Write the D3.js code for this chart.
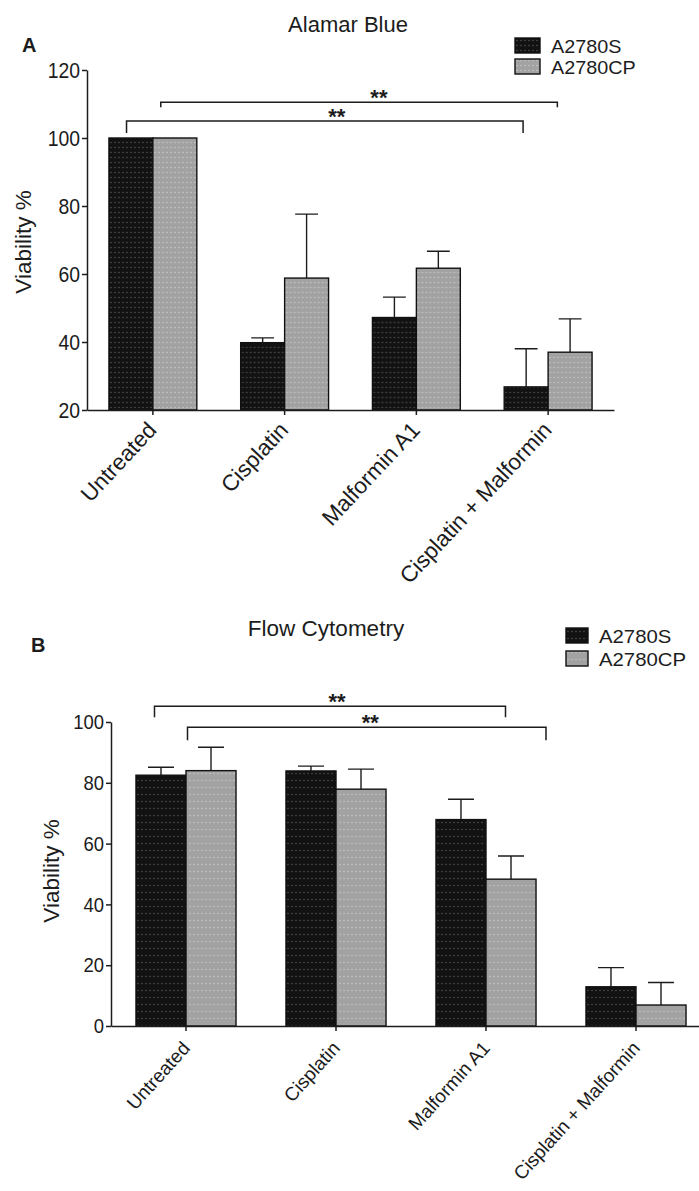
<!DOCTYPE html>
<html lang="en">
<head>
<meta charset="UTF-8">
<title>Viability</title>
<style>
    body { margin: 0; background: #fff; }
    svg text { font-family: "Liberation Sans", Arial, sans-serif; fill: #1c1c1c; }
    .axis path, .axis line { stroke: #1c1c1c; stroke-width: 1.5px; }
    .bar { stroke: #111; stroke-width: 1.4px; }
    .err { stroke: #1c1c1c; stroke-width: 1.4px; fill: none; }
    .bracket { stroke: #1c1c1c; stroke-width: 1.5px; fill: none; }
</style>
</head>
<body>
<svg id="fig" width="699" height="1191"></svg>
<script src="https://cdnjs.cloudflare.com/ajax/libs/d3/7.8.5/d3.min.js"></script>
<script>
// categories and series
var categories = ["Untreated", "Cisplatin", "Malformin A1", "Cisplatin + Malformin"];
var seriesNames = ["A2780S", "A2780CP"];

// Alamar Blue (panel A) - mean and upper error
var alamarS = [100, 39.8, 47.2, 26.8];
var alamarCP = [100, 58.8, 61.7, 37.0];
var alamarSErr = [0, 1.4, 6.0, 11.2];
var alamarCPErr = [0, 18.8, 5.0, 9.8];
var alamarTicks = [20, 40, 60, 80, 100, 120];

// Flow Cytometry (panel B)
var flowS = [82.5, 83.9, 67.9, 12.9];
var flowCP = [84.0, 77.9, 48.3, 6.9];
var flowSErr = [2.6, 1.6, 6.7, 6.3];
var flowCPErr = [7.7, 6.6, 7.6, 7.4];
var flowTicks = [0, 20, 40, 60, 80, 100];

// significance brackets: [from category, to category, value, label]
var alamarSig = [["Untreated", "Cisplatin + Malformin", 110.5, "**"],
                 ["Untreated", "Cisplatin + Malformin", 105, "**"]];
var flowSig = [["Untreated", "Malformin A1", 105.2, "**"],
               ["Untreated", "Malformin A1", 98.3, "**"]];

var svg = d3.select("#fig");

// dotted fills
var defs = svg.append("defs");
function dots(id, bg, dot, h) {
    var p = defs.append("pattern").attr("id", id)
        .attr("width", 4).attr("height", h).attr("patternUnits", "userSpaceOnUse");
    p.append("rect").attr("width", 4).attr("height", h).attr("fill", bg);
    p.append("circle").attr("cx", 2).attr("cy", h / 2).attr("r", 0.75).attr("fill", dot);
}
dots("darkA", "#121212", "#555", 5);
dots("lightA", "#a2a2a2", "#cacaca", 5);
dots("darkB", "#121212", "#555", 7);
dots("lightB", "#a2a2a2", "#cacaca", 7);

function drawPanel(c) {
    var g = svg.append("g");
    var y = d3.scaleLinear().domain(c.domain).range(c.yRange);
    var x = d3.scaleBand().domain(categories).range(c.xRange).padding(0);
    var step = x.bandwidth();
    var gw = step * 0.667;
    var fills = [c.dark, c.light];

    var rows = categories.map(function (cat, i) {
        return { cat: cat, vals: [c.s[i], c.cp[i]], errs: [c.sErr[i], c.cpErr[i]] };
    });

    var grp = g.selectAll(".grp").data(rows).enter().append("g")
        .attr("transform", function (d) { return "translate(" + (x(d.cat) + step / 2 - gw / 2) + ",0)"; });
    var sub = d3.scaleBand().domain(seriesNames).range([0, gw]);

    var cells = grp.selectAll(".cell").data(function (d) {
        return seriesNames.map(function (s, j) { return { s: s, v: d.vals[j], e: d.errs[j], f: fills[j] }; });
    }).enter().append("g");

    // error bars (drawn first so bar outline covers the foot)
    cells.filter(function (d) { return d.e > 0; }).append("path")
        .attr("class", "err")
        .attr("d", function (d) {
            var cx = sub(d.s) + sub.bandwidth() / 2, hw = sub.bandwidth() * 0.26;
            return "M" + cx + "," + y(d.v) + "V" + y(d.v + d.e) + "M" + (cx - hw) + "," + y(d.v + d.e) + "H" + (cx + hw);
        });

    cells.append("rect").attr("class", "bar")
        .attr("x", function (d) { return sub(d.s); })
        .attr("width", sub.bandwidth())
        .attr("y", function (d) { return y(d.v); })
        .attr("height", function (d) { return y(c.domain[0]) - y(d.v); })
        .attr("fill", function (d) { return "url(#" + d.f + ")"; });

    // axes
    var ya = g.append("g").attr("class", "axis").attr("transform", "translate(" + c.xRange[0] + ",0)")
        .call(d3.axisLeft(y).tickValues(c.ticks).tickSize(5).tickSizeOuter(0).tickPadding(3));
    ya.selectAll("text").style("font-size", c.tickFont + "px").attr("fill", "#1c1c1c")
        .attr("transform", "scale(0.88,1)");

    var xa = g.append("g").attr("class", "axis").attr("transform", "translate(0," + c.yRange[0] + ")")
        .call(d3.axisBottom(x).tickSize(5).tickSizeOuter(0).tickFormat(""));
    xa.selectAll(".tick").append("text")
        .attr("transform", "translate(" + c.lab[0] + "," + c.lab[1] + ") rotate(" + c.lab[2] + ")")
        .attr("text-anchor", "end")
        .style("font-size", c.labFont + "px")
        .attr("fill", "#1c1c1c")
        .text(function (d) { return d; });

    // significance brackets
    c.sig.forEach(function (b, k) {
        var f = c.sigFrac[k];
        var x0 = x(b[0]) + f[0] * step, x1 = x(b[1]) + f[1] * step, yy = y(b[2]);
        g.append("path").attr("class", "bracket")
            .attr("d", "M" + x0 + "," + (yy + f[2]) + "V" + yy + "H" + x1 + "V" + (yy + f[2]));
        g.append("text").attr("x", x0 + (x1 - x0) * f[3]).attr("y", yy + 3)
            .attr("text-anchor", "middle").style("font-size", "22px").style("font-weight", "bold")
            .text(b[3]);
    });

    // title, panel letter, y label
    g.append("text").attr("x", c.title[1]).attr("y", c.title[2]).attr("text-anchor", "middle")
        .style("font-size", c.title[3] + "px").attr("fill", "#2a2a2a").text(c.title[0]);
    g.append("text").attr("x", c.letter[1]).attr("y", c.letter[2])
        .style("font-size", "20px").style("font-weight", "bold").text(c.letter[0]);
    g.append("text").attr("transform", "translate(" + c.yLab[0] + "," + c.yLab[1] + ") rotate(-90)")
        .attr("text-anchor", "middle").style("font-size", "22.5px").attr("fill", "#2a2a2a").text("Viability %");

    // legend
    var lg = g.append("g").attr("transform", "translate(" + c.legend[0] + "," + c.legend[1] + ")");
    seriesNames.forEach(function (s, j) {
        lg.append("rect").attr("class", "bar").attr("x", 0).attr("y", j * c.legend[4])
            .attr("width", c.legend[2]).attr("height", c.legend[3]).attr("fill", "url(#" + fills[j] + ")");
        var t = lg.append("text").attr("x", c.legend[2] + 11).attr("y", j * c.legend[4] + c.legend[3])
            .style("font-size", c.legFont + "px").text(s);
        // widen a little to match the stretched look of the original
        t.attr("textLength", t.node().getComputedTextLength() * 1.07).attr("lengthAdjust", "spacingAndGlyphs");
    });
}

drawPanel({
    domain: [20, 120], yRange: [410, 70], xRange: [87, 614],
    s: alamarS, cp: alamarCP, sErr: alamarSErr, cpErr: alamarCPErr, ticks: alamarTicks,
    dark: "darkA", light: "lightA", tickFont: 22, labFont: 22.5, lab: [5, 21, -47],
    sig: alamarSig, sigFrac: [[0.56, 0.57, 5, 0.55], [0.3, 0.31, 12, 0.53]],
    title: ["Alamar Blue", 348, 32, 22], letter: ["A", 22, 52], yLab: [31, 242],
    legend: [515, 38, 25, 15, 21], legFont: 18.5
});

drawPanel({
    domain: [0, 100], yRange: [1026, 722], xRange: [111, 711],
    s: flowS, cp: flowCP, sErr: flowSErr, cpErr: flowCPErr, ticks: flowTicks,
    dark: "darkB", light: "lightB", tickFont: 21, labFont: 19, lab: [5, 23, -48],
    sig: flowSig, sigFrac: [[0.29, 0.63, 11, 0.52], [0.51, 0.9, 13, 0.51]],
    title: ["Flow Cytometry", 326, 636, 22.5], letter: ["B", 31, 652], yLab: [59, 871],
    legend: [566, 628, 22, 15, 23], legFont: 19
});
</script>
</body>
</html>
